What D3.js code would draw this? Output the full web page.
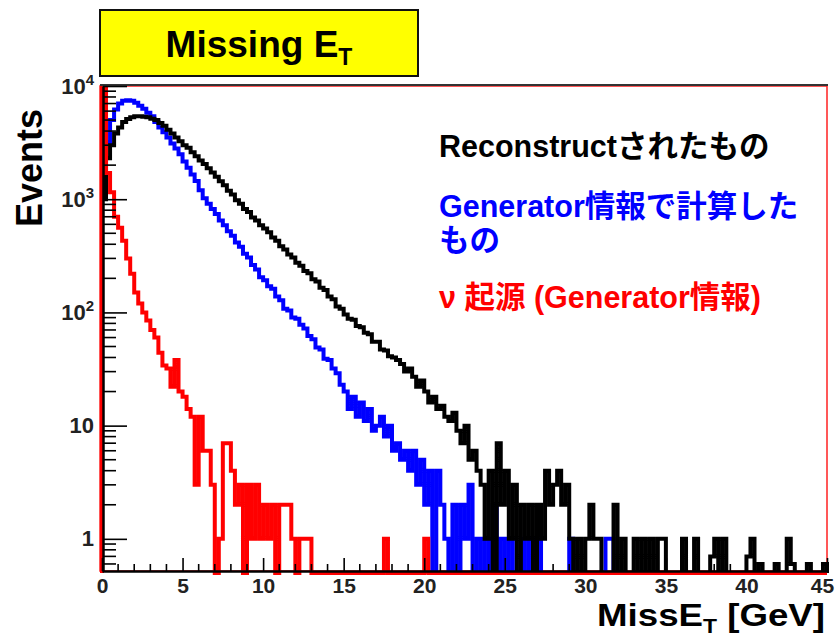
<!DOCTYPE html>
<html>
<head>
<meta charset="utf-8">
<script src="https://cdn.jsdelivr.net/npm/d3@7"></script>
<style>
  html, body { margin: 0; padding: 0; background: #ffffff; }
  svg { display: block; }
  .lbl { font-family: "Liberation Sans", Arial, "Noto Sans CJK JP", sans-serif; font-weight: bold; }
</style>
</head>
<body>
<svg id="chart" width="836" height="637"></svg>
<script>
// Missing transverse energy, three histograms with 0.25 GeV bins from 0 to 45 GeV.
const binWidth = 0.25;
const xExtent = [0, 45];

// Reconstructed missing ET (black)
const recoCounts = [
  1000, 2300, 3000, 3800, 4300, 4800, 5100, 5300, 5400, 5400,
  5350, 5300, 5150, 5000, 4700, 4450, 4100, 3800, 3500, 3250,
  3000, 2850, 2600, 2400, 2200, 2050, 1880, 1720, 1580, 1440,
  1330, 1190, 1100, 980, 910, 820, 770, 690, 650, 590,
  550, 510, 460, 430, 385, 360, 325, 305, 275, 258,
  232, 222, 196, 188, 165, 158, 138, 131, 113, 108,
  96, 88, 86, 76, 74, 66, 64, 55, 55, 47,
  46, 41, 40, 38, 35, 30, 32, 27, 22, 25,
  20, 16, 18, 14, 15, 12, 11, 13, 9, 7,
  10, 5, 6, 4, 3, 1, 4, 0, 7, 2,
  4, 1, 3, 0, 2, 1, 2, 0, 2, 1,
  4, 2, 3, 4, 2, 3, 1, 0, 1, 0,
  1, 2, 1, 1, 0, 0, 0, 2, 0, 1,
  0, 0, 1, 0, 1, 0, 1, 0, 1, 1,
  0, 0, 0, 0, 1, 0, 0, 1, 0, 0,
  0, 0.7, 1, 0, 1, 0, 0, 0, 0, 0,
  0.7, 1, 0, 0.6, 0, 0, 0, 0.6, 0, 0,
  1, 0.6, 0, 0, 0, 0.6, 0, 0, 0, 0.6
];

// Missing ET computed from generator information (blue)
const genCounts = [
  1300, 3200, 5000, 6200, 7000, 7400, 7500, 7400, 7100, 6700,
  6300, 5800, 5400, 4800, 4300, 3900, 3500, 3100, 2800, 2500,
  2150, 1900, 1650, 1450, 1200, 1020, 910, 820, 740, 650,
  590, 520, 475, 415, 380, 330, 305, 262, 240, 205,
  192, 170, 162, 138, 128, 108, 104, 90, 88, 78,
  72, 62, 58, 49, 47, 39, 38, 32, 29, 23,
  20, 14, 18, 12, 16, 11, 14, 9, 10, 12,
  8, 10, 6, 7, 5, 6, 4, 6, 3, 5,
  2, 4, 0, 4, 2, 1, 0, 2, 0, 2,
  1, 3, 0, 1, 0, 1, 0, 2, 0, 1,
  0, 1, 0, 0, 1, 0, 1, 0, 1, 0,
  0, 0, 0, 0, 0, 0, 1, 0, 0, 0,
  0, 0, 0, 0, 0, 1, 1, 0, 0, 0,
  0, 0, 0, 0, 0, 0, 0, 0, 0, 0,
  0, 0, 0, 0, 0, 0, 0, 0, 0, 0,
  0, 0, 0, 0, 0, 0, 0, 0, 0, 0,
  0, 0, 0, 0, 0, 0, 0, 0, 0, 0,
  0, 0, 0, 0, 0, 0, 0, 0, 0, 0
];

// Neutrino-origin missing ET from generator information (red)
const nuCounts = [
  11000, 1700, 1150, 700, 560, 430, 300, 220, 150, 120,
  100, 85, 70, 60, 44, 34, 32, 22, 38, 20,
  18, 14, 12, 3, 12, 6, 6, 3, 0, 1,
  7, 7, 4, 2, 3, 0, 3, 1, 3, 1,
  2, 1, 2, 0, 2, 2, 2, 1, 0, 1,
  1, 1, 0, 0, 0, 0, 0, 0, 0, 0,
  0, 0, 0, 0, 0, 0, 0, 0, 0, 0,
  1, 0, 0, 0, 0, 0, 0, 0, 0, 0,
  1, 0, 0, 0, 0, 0, 0, 0, 0, 0,
  0, 0, 0, 0, 0, 0, 0, 0, 0, 0,
  0, 0, 0, 0, 0, 0, 0, 0, 0, 0,
  0, 0, 0, 0, 0, 0, 0, 0, 0, 0,
  0, 0, 0, 0, 0, 0, 0, 0, 0, 0,
  0, 0, 0, 0, 0, 0, 0, 0, 0, 0,
  0, 0, 0, 0, 0, 0, 0, 0, 0, 0,
  0, 0, 0, 0, 0, 0, 0, 0, 0, 0,
  0, 0, 0, 0, 0, 0, 0, 0, 0, 0,
  0, 0, 0, 0, 0, 0, 0, 0, 0, 0
];

const xTickValues = [0, 5, 10, 15, 20, 25, 30, 35, 40, 45];
const yTickValues = [1, 10, 100, 1000, 10000];
const yTickLabels = [["1", ""], ["10", ""], ["10", "2"], ["10", "3"], ["10", "4"]];

const legendEntries = [
  { text: "Reconstructされたもの", color: "#000000" },
  { text: "Generator情報で計算した", color: "#0000ff" },
  { text: "もの", color: "#0000ff" },
  { text: "ν 起源 (Generator情報)", color: "#ff0000" }
];

const series = [
  { name: "generator", counts: genCounts, color: "#0000ff" },
  { name: "reco", counts: recoCounts, color: "#000000" },
  { name: "neutrino", counts: nuCounts, color: "#ff0000" }
];

// ---- layout ----
const frame = { left: 102, right: 827, top: 86, bottom: 571 };
const svg = d3.select("#chart");
const font = '"Liberation Sans", Arial, "Noto Sans CJK JP", sans-serif';

const x = d3.scaleLinear().domain(xExtent).range([frame.left, frame.right]);
const y = d3.scaleLog().domain([0.52, 1e4]).range([frame.bottom, frame.top]);
const zeroLevel = 0.5; // empty bins drop to just below the frame floor

svg.append("defs").append("clipPath").attr("id", "plotClip")
  .append("rect")
  .attr("x", frame.left - 4).attr("y", frame.top)
  .attr("width", frame.right - frame.left + 6)
  .attr("height", frame.bottom - frame.top + 6);

// title box
svg.append("rect")
  .attr("x", 100).attr("y", 10).attr("width", 318).attr("height", 66)
  .attr("fill", "#ffff00").attr("stroke", "#111").attr("stroke-width", 2);
const title = svg.append("text").attr("class", "lbl")
  .attr("x", 259).attr("y", 57).attr("text-anchor", "middle")
  .attr("font-size", 37).attr("fill", "#000");
title.append("tspan").text("Missing E");
title.append("tspan").attr("font-size", 23).attr("dy", 8).text("T");

// frame borders
svg.append("rect")
  .attr("x", frame.left - 2).attr("y", frame.top)
  .attr("width", frame.right - frame.left + 2).attr("height", frame.bottom - frame.top)
  .attr("fill", "none").attr("stroke", "#ff2020").attr("stroke-width", 1.5);
svg.append("line")
  .attr("x1", frame.left - 2).attr("x2", frame.right + 1)
  .attr("y1", frame.top - 1).attr("y2", frame.top - 1)
  .attr("stroke", "#333").attr("stroke-width", 2);

// histograms as step outlines
const histLine = d3.line()
  .x(d => x(d[0]))
  .y(d => y(Math.max(d[1], zeroLevel)));

function stepPoints(counts) {
  const pts = [[xExtent[0], 0]];
  counts.forEach((c, i) => {
    pts.push([xExtent[0] + i * binWidth, c]);
    pts.push([xExtent[0] + (i + 1) * binWidth, c]);
  });
  pts.push([xExtent[1], 0]);
  return pts;
}

const plot = svg.append("g").attr("clip-path", "url(#plotClip)");
series.forEach(s => {
  plot.append("path")
    .attr("d", histLine(stepPoints(s.counts)))
    .attr("fill", "none")
    .attr("stroke", s.color)
    .attr("stroke-width", 4)
    .attr("stroke-linejoin", "miter");
});

// y axis (log), ticks pointing into the frame
const yAxisG = svg.append("g").attr("transform", `translate(${frame.left + 1},0)`)
  .call(d3.axisLeft(y).tickValues(yTickValues).tickSize(-24).tickSizeOuter(0).tickPadding(9));
yAxisG.select(".domain").attr("stroke", "#000").attr("stroke-width", 2.5);
yAxisG.selectAll(".tick line").attr("stroke", "#000").attr("stroke-width", 1.6);
yAxisG.selectAll(".tick text")
  .attr("font-family", font).attr("font-weight", "bold").attr("font-size", 22).attr("fill", "#222")
  .text(null)
  .each(function (d) {
    const lab = yTickLabels[yTickValues.indexOf(d)];
    const t = d3.select(this);
    t.append("tspan").text(lab[0]);
    if (lab[1]) t.append("tspan").attr("font-size", 15).attr("dy", "-0.6em").text(lab[1]);
  });

const yMinor = [];
for (let p = -1; p <= 3; p++) {
  for (let m = 2; m <= 9; m++) {
    const v = m * Math.pow(10, p);
    if (v >= y.domain()[0] && v <= y.domain()[1]) yMinor.push(v);
  }
}
svg.append("g").selectAll("line").data(yMinor).join("line")
  .attr("x1", frame.left + 1).attr("x2", frame.left + 14)
  .attr("y1", d => y(d)).attr("y2", d => y(d))
  .attr("stroke", "#000").attr("stroke-width", 1.6);

// x axis
const xAxisG = svg.append("g").attr("transform", `translate(0,${frame.bottom})`)
  .call(d3.axisBottom(x).tickValues(xTickValues).tickSize(-13).tickSizeOuter(0).tickPadding(7));
xAxisG.select(".domain").attr("stroke", "#000").attr("stroke-width", 2.5);
xAxisG.selectAll(".tick line").attr("stroke", "#000").attr("stroke-width", 1.6);
xAxisG.selectAll(".tick text")
  .attr("font-family", font).attr("font-weight", "bold").attr("font-size", 21).attr("fill", "#222")
  .attr("dx", d => d === xExtent[1] ? -5 : 0);

const xMinor = d3.range(1, 45).filter(v => v % 5 !== 0);
svg.append("g").selectAll("line").data(xMinor).join("line")
  .attr("x1", d => x(d)).attr("x2", d => x(d))
  .attr("y1", frame.bottom).attr("y2", frame.bottom - 7)
  .attr("stroke", "#000").attr("stroke-width", 1.6);

// axis titles
svg.append("text").attr("class", "lbl")
  .attr("transform", "translate(42,168) rotate(-90)")
  .attr("text-anchor", "middle").attr("font-size", 36).attr("fill", "#000")
  .text("Events");

const xTitle = svg.append("text").attr("class", "lbl")
  .attr("x", 597).attr("y", 626)
  .attr("font-size", 32).attr("fill", "#000")
  .attr("textLength", 228).attr("lengthAdjust", "spacingAndGlyphs");
xTitle.append("tspan").text("MissE");
xTitle.append("tspan").attr("font-size", 20).attr("dy", 7).text("T");
xTitle.append("tspan").attr("dy", -7).text(" [GeV]");

// legend text
const legendY = [157, 217, 251, 308];
svg.append("g").selectAll("text").data(legendEntries).join("text")
  .attr("class", "lbl")
  .attr("x", 439).attr("y", (d, i) => legendY[i])
  .attr("font-size", 30.5)
  .attr("fill", d => d.color)
  .text(d => d.text);
</script>
</body>
</html>
